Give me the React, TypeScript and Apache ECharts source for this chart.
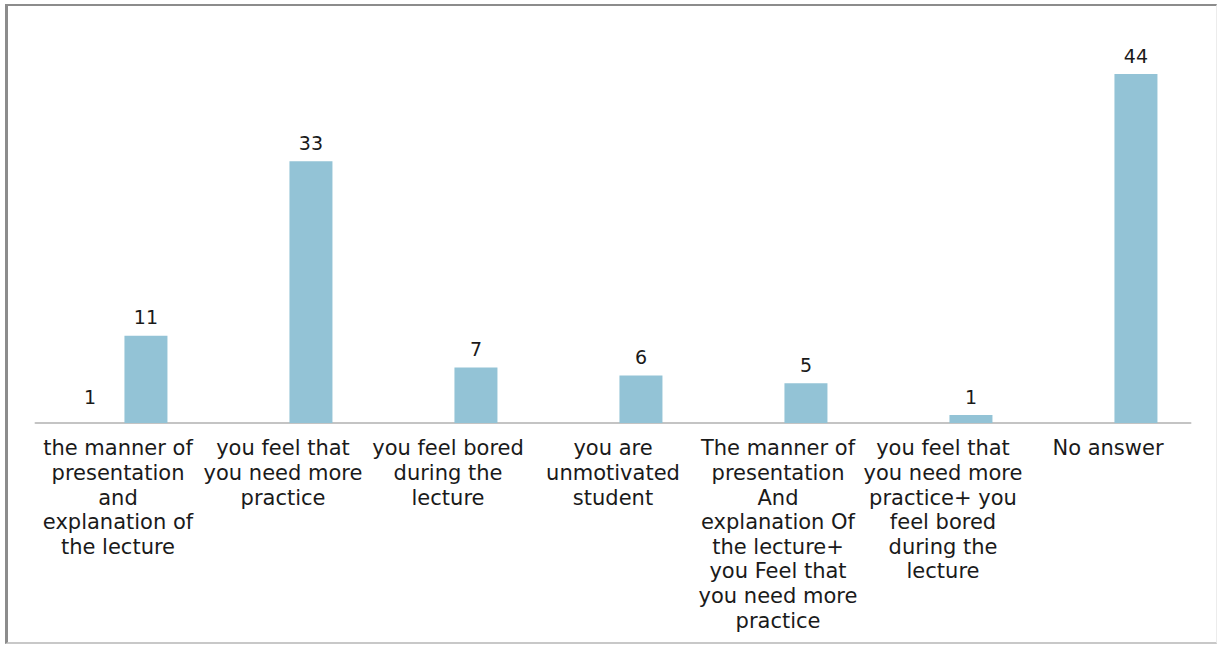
import React, { useEffect, useRef } from "react";
import * as echarts from "echarts";

const categories: string[] = [
  "the manner of\npresentation\nand\nexplanation of\nthe lecture",
  "you feel that\nyou need more\npractice",
  "you feel bored\nduring the\nlecture",
  "you are\nunmotivated\nstudent",
  "The manner of\npresentation\nAnd\nexplanation Of\nthe lecture+\nyou Feel that\nyou need more\npractice",
  "you feel that\nyou need more\npractice+ you\nfeel bored\nduring the\nlecture",
  "No answer",
];
const seriesA: (number | null)[] = [1, null, null, null, null, null, null];
const seriesB: number[] = [11, 33, 7, 6, 5, 1, 44];

export default function App() {
  const ref = useRef<HTMLDivElement>(null);
  useEffect(() => {
    if (!ref.current) return;
    const chart = echarts.init(ref.current, null, { renderer: "svg" });
    const labelStyle = {
      show: true,
      position: "top" as const,
      distance: 9,
      color: "#1a1a1a",
      fontFamily: "DejaVu Sans",
      fontSize: 19,
    };
    chart.setOption({
      animation: false,
      grid: { left: 35.5, right: 26.5, top: 74, bottom: 222, containLabel: false },
      xAxis: {
        type: "category",
        data: categories,
        axisLine: { lineStyle: { color: "#c4c4c4", width: 2 } },
        axisTick: { show: false },
        axisLabel: {
          interval: 0,
          color: "#1a1a1a",
          fontFamily: "DejaVu Sans",
          fontSize: 21,
          lineHeight: 24.6,
          margin: 13,
          align: "center",
        },
      },
      yAxis: {
        type: "value",
        min: 0,
        max: 44,
        show: false,
        splitLine: { show: false },
      },
      series: [
        {
          type: "bar",
          data: seriesA,
          barWidth: 43,
          barGap: "30%",
          itemStyle: { color: "rgba(0,0,0,0)" },
          label: { ...labelStyle },
        },
        {
          type: "bar",
          data: seriesB,
          barWidth: 43,
          barGap: "30%",
          itemStyle: { color: "#93c3d6" },
          label: { ...labelStyle },
        },
      ],
    });
    return () => chart.dispose();
  }, []);
  return (
    <div style={{ position: "fixed", left: 0, top: 0, width: 1217, height: 645, background: "#fff" }}>
      <div
        style={{
          position: "absolute",
          left: 5,
          top: 4,
          width: 1208,
          height: 636,
          borderLeft: "3px solid #8c8c8c",
          borderTop: "2px solid #8c8c8c",
          borderBottom: "2px solid #c8c8c8",
          borderRight: "1px solid #ececec",
        }}
      />
      <div ref={ref} style={{ position: "absolute", left: 0, top: 0, width: 1217, height: 645 }} />
    </div>
  );
}
